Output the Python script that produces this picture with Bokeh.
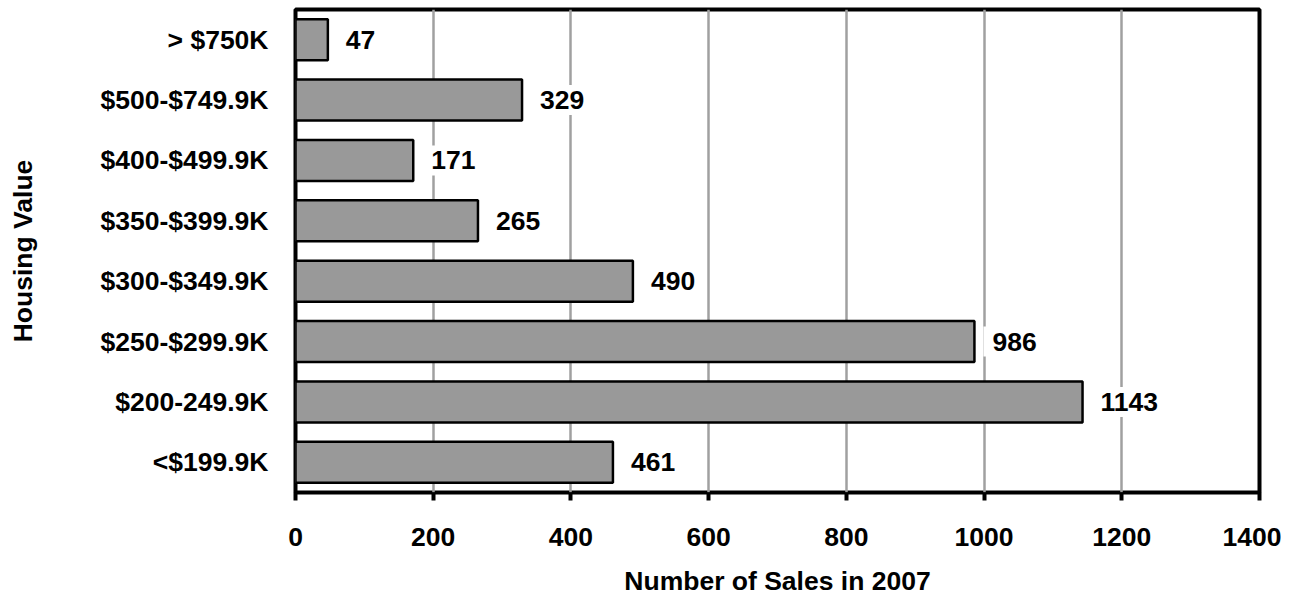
from bokeh.plotting import figure
from bokeh.models import ColumnDataSource, FactorRange, Range1d, FixedTicker
from bokeh.core.properties import value
from bokeh.embed import file_html
from bokeh.resources import INLINE

categories = ["<$199.9K", "$200-249.9K", "$250-$299.9K", "$300-$349.9K",
              "$350-$399.9K", "$400-$499.9K", "$500-$749.9K", "> $750K"]
sales = [461, 1143, 986, 490, 265, 171, 329, 47]
x_ticks = [0, 200, 400, 600, 800, 1000, 1200, 1400]

FONT = "Liberation Sans"
FS = "26.5px"

src = ColumnDataSource(dict(cat=categories, val=sales, txt=[str(v) for v in sales]))

p = figure(y_range=FactorRange(factors=categories, range_padding=0),
           x_range=Range1d(0, 1400),
           frame_width=964, frame_height=483,
           min_border_left=295, min_border_top=9, min_border_right=22, min_border_bottom=92,
           output_backend="svg", toolbar_location=None, tools="")

p.hbar(y="cat", right="val", left=0, height=0.68, source=src,
       fill_color="#999999", line_color="black", line_width=2.5)

p.text(x="val", y="cat", text="txt", source=src, x_offset=9,
       text_font=value(FONT), text_font_size=FS, text_font_style="bold",
       text_baseline="middle", text_align="left", text_color="black",
       background_fill_color="white", padding=(9, 6))

p.outline_line_color = "black"
p.outline_line_width = 4
p.background_fill_color = "white"
p.border_fill_color = "white"

p.xgrid.grid_line_color = "#a0a0a0"
p.xgrid.grid_line_width = 2.5
p.xgrid.ticker = FixedTicker(ticks=x_ticks)
p.ygrid.grid_line_color = None

xa = p.xaxis[0]
xa.ticker = FixedTicker(ticks=x_ticks)
xa.axis_line_color = None
xa.major_tick_out = 8
xa.major_tick_in = 0
xa.major_tick_line_width = 4
xa.major_tick_line_color = "black"
xa.minor_tick_line_color = None
xa.major_label_text_font = FONT
xa.major_label_text_font_size = FS
xa.major_label_text_font_style = "bold"
xa.major_label_text_color = "black"
xa.major_label_standoff = 27
xa.axis_label = "Number of Sales in 2007"
xa.axis_label_text_font = FONT
xa.axis_label_text_font_size = FS
xa.axis_label_text_font_style = "bold"
xa.axis_label_text_color = "black"
xa.axis_label_standoff = 17

ya = p.yaxis[0]
ya.axis_line_color = None
ya.major_tick_out = 0
ya.major_tick_in = 0
ya.major_tick_line_color = None
ya.minor_tick_line_color = None
ya.major_label_text_font = FONT
ya.major_label_text_font_size = FS
ya.major_label_text_font_style = "bold"
ya.major_label_text_color = "black"
ya.major_label_standoff = 27
ya.axis_label = "Housing Value"
ya.axis_label_text_font = FONT
ya.axis_label_text_font_size = FS
ya.axis_label_text_font_style = "bold"
ya.axis_label_text_color = "black"
ya.axis_label_standoff = 60

open("out.html", "w").write(file_html(p, INLINE))
